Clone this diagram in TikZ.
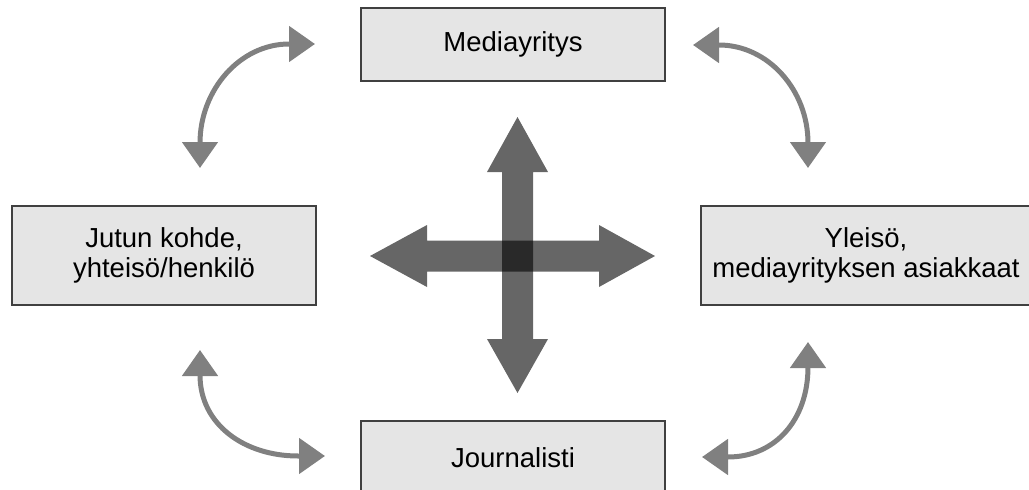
\documentclass[tikz,border=0pt]{standalone}
\usepackage{fontspec}
\setmainfont{Liberation Sans}
\usetikzlibrary{arrows.meta}

\begin{document}
\begin{tikzpicture}[x=1pt, y=-1pt,
    laatikko/.style={draw=black!75, line width=1.3pt, fill=black!10,
        align=center, font=\fontsize{27.5}{29.5}\selectfont, inner sep=0pt},
    kaari/.style={draw=black!50, line width=5pt,
        {Triangle[length=26pt, width=35pt]}-{Triangle[length=26pt, width=35pt]}},
    risti/.style={fill=black, fill opacity=0.6}]
    \useasboundingbox (0,0) rectangle (1029,490);
    \clip (0,0) rectangle (1029,490);

    % laatikot
    \node[laatikko, minimum width=304pt, minimum height=73pt] (media) at (513,44.5) {Mediayritys};
    \node[laatikko, minimum width=304pt, minimum height=99pt] (kohde) at (164,255.5) {Jutun kohde,\\yhteisö/henkilö};
    \node[laatikko, minimum width=330pt, minimum height=99pt] (yleiso) at (866,255.5) {Yleisö,\\mediayrityksen asiakkaat};
    \node[laatikko, minimum width=304pt, minimum height=73pt] (journ) at (513,457.5) {Journalisti};

    % kaarinuolien päät
    \coordinate (1a) at (315,44);
    \coordinate (1b) at (200,168);
    \coordinate (2a) at (693,45);
    \coordinate (2b) at (808,168);
    \coordinate (3a) at (200,350);
    \coordinate (3b) at (325,456);
    \coordinate (4a) at (808,342);
    \coordinate (4b) at (702,457);

    \draw[kaari] (1a) -- (289,44) .. controls (240,44) and (200,90) .. (200,143) -- (1b);
    \draw[kaari] (2a) -- (719,45) .. controls (768,45) and (808,90) .. (808,143) -- (2b);
    \draw[kaari] (3a) -- (200,375) .. controls (200,425) and (245,456) .. (298,456) -- (3b);
    \draw[kaari] (4a) -- (808,367) .. controls (808,420) and (775,457) .. (728,457) -- (4b);

    % keskellä risti
    \path[risti] (370,256) -- (427,225) -- (427,240.5) -- (599,240.5) -- (599,225) -- (655,256)
        -- (599,287) -- (599,271.5) -- (427,271.5) -- (427,287) -- cycle;
    \path[risti] (517.5,117) -- (548,172) -- (533,172) -- (533,339) -- (548,339) -- (517.5,393)
        -- (487,339) -- (502,339) -- (502,172) -- (487,172) -- cycle;
\end{tikzpicture}
\end{document}
